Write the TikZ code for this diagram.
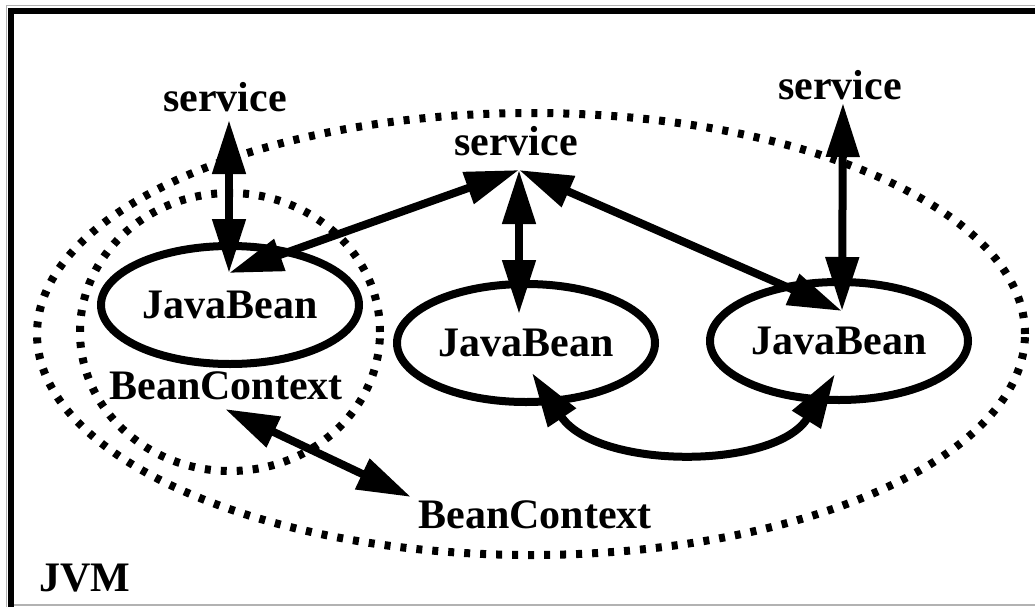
\documentclass[tikz,border=0pt]{standalone}
\usepackage{fontspec}
\setmainfont{Liberation Serif}
\usetikzlibrary{arrows.meta,shapes.geometric}
\begin{document}
\begin{tikzpicture}[x=1pt,y=-1pt,
  lbl/.style={font=\fontsize{42}{42}\selectfont\bfseries, inner sep=0pt, anchor=base},
  bean/.style={draw, ellipse, line width=8pt, minimum width=258pt, minimum height=118pt, inner sep=0pt,
    font=\fontsize{42}{42}\selectfont\bfseries},
  dots/.style={line width=8pt, dash pattern=on 6pt off 10pt},
  link/.style={line width=8pt, {Triangle[length=54pt,width=32pt]}-{Triangle[length=54pt,width=32pt]}}
]
\useasboundingbox (0,0) rectangle (1035,607);
% frame
\draw[gray!60, line width=1pt] (6,607) -- (6,6) -- (1035,6);
\draw[gray!60, line width=1.5pt] (14,605) -- (1035,605);
\fill (8,8) rectangle (1035,14);
\fill (8,8) rectangle (14,607);

% dotted ellipses
\draw[dots] (531,334) ellipse [x radius=494pt, y radius=221pt];
\draw[dots] (230,332) ellipse [x radius=150pt, y radius=139pt];

% beans
\node[bean] (jb1) at (230,305) {JavaBean};
\node[bean] (jb2) at (526,343) {JavaBean};
\node[bean] (jb3) at (839,341) {JavaBean};

% labels
\node[lbl] (s1) at (225,112) {service};
\node[lbl] (s2) at (516,155) {service};
\node[lbl] (s3) at (840,100) {service};
\node[lbl] (bc1) at (226,399) {BeanContext};
\node[lbl] (bc2) at (535,528) {BeanContext};
\node[lbl] (jvm) at (85,591) {JVM};

% connector end points
\coordinate (s1t) at (229,120);
\coordinate (jb1t) at (229,273);
\coordinate (s2t) at (519,170);
\coordinate (jb2t) at (519,314);
\coordinate (jb3t) at (842,311);
\coordinate (s3t) at (843,103);
\coordinate (jb2b) at (532,373);
\coordinate (jb3b) at (835,374);
\coordinate (bc1t) at (225,409);
\coordinate (bc2t) at (411,497);

% connectors
\draw[link] (s1t) -- (jb1t);
\draw[link] (s2t) -- (jb1t);
\draw[link] (s2t) -- (jb2t);
\draw[link] (s2t) -- (jb3t);
\draw[link] (s3t) -- (jb3t);
\draw[link] (jb2b) .. controls (597,470) and (775,470) .. (jb3b);
\draw[link] (bc1t) -- (bc2t);
\end{tikzpicture}
\end{document}
